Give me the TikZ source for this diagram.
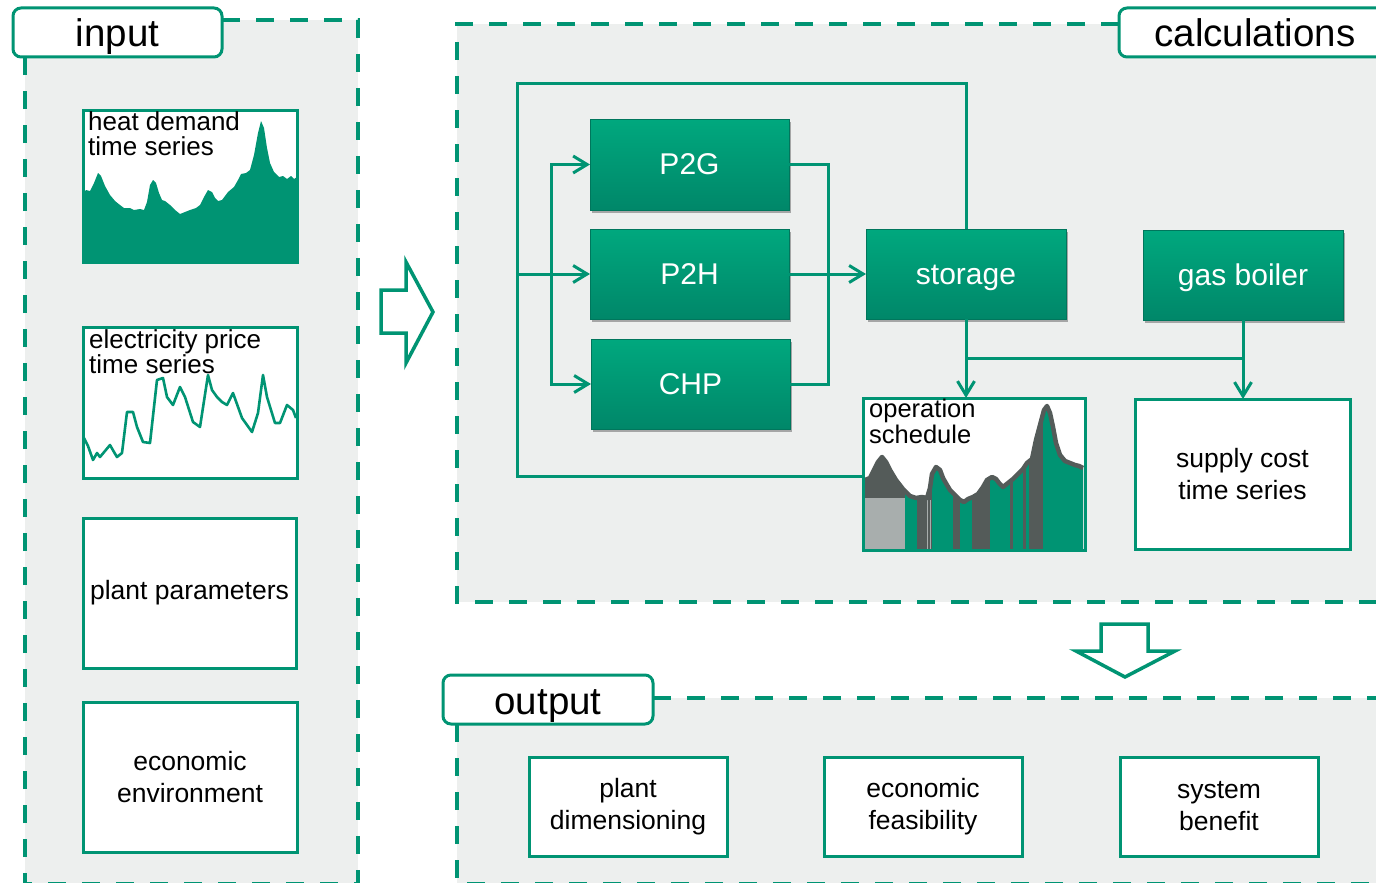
\documentclass[tikz,border=0pt]{standalone}
\usepackage{fontspec}
\setmainfont{Liberation Sans}
\usetikzlibrary{arrows.meta,shadows,calc}
\definecolor{tgreen}{RGB}{0,148,115}
\definecolor{panelgray}{RGB}{237,239,238}
\definecolor{gtop}{RGB}{0,168,126}
\definecolor{gbot}{RGB}{0,135,105}
\definecolor{dkgray}{RGB}{84,91,89}
\definecolor{ltgray}{RGB}{168,174,173}
\begin{document}
\begin{tikzpicture}[x=1pt,y=-1pt,
  panelfill/.style={fill=panelgray,draw=none},
  dashline/.style={draw=tgreen,line width=4pt,dash pattern=on 18pt off 16pt},
  labelbox/.style={draw=tgreen,line width=3pt,rounded corners=8pt,fill=white,
     minimum height=49pt,inner sep=0pt,text height=29pt,text depth=0pt,
     font=\fontsize{38.5}{40}\selectfont},
  wbox/.style={draw=tgreen,line width=3pt,fill=white,inner sep=0pt,outer sep=0pt,align=center,
     font=\fontsize{26.5}{32}\selectfont},
  gbox/.style={draw=tgreen!80!black,line width=0.8pt,top color=gtop,bottom color=gbot,
     text=white,inner sep=0pt,outer sep=0pt,font=\fontsize{30}{32}\selectfont,
     text height=26pt,text depth=6pt,
     drop shadow={shadow xshift=2pt,shadow yshift=-3pt,opacity=0.3,fill=black}},
  boxline/.style={draw=tgreen,line width=3pt},
  smalltxt/.style={anchor=north west,inner sep=0pt,align=left,
     font=\fontsize{26}{25}\selectfont},
  conn/.style={draw=tgreen,line width=3pt},
  arr/.style={conn,-{Straight Barb[length=14pt,width=17pt]}},
  hollow/.style={draw=tgreen,line width=3.5pt,fill=white,line join=miter}
]
\useasboundingbox (0,0) rectangle (1376,883);
\fill[white] (0,0) rectangle (1376,883);

% ---------- panels ----------
\fill[panelfill] (25,20) rectangle (358,884);
\fill[panelfill] (457,24) rectangle (1395,602);
\fill[panelfill] (457,698) rectangle (1395,884);

\draw[dashline] (222,20) -- (358,20) -- (358,884) -- (25,884) -- (25,57);
\draw[dashline] (1119,24) -- (457,24) -- (457,602) -- (1395,602);
\draw[dashline] (653,698) -- (1395,698);
\draw[dashline] (457,724) -- (457,884) -- (1395,884);

\node[labelbox,minimum width=209pt] (inlbl) at (117.5,32.5) {input};
\node[labelbox,minimum width=272pt] (calclbl) at (1255,32.5) {calculations};
\node[labelbox,minimum width=210pt] (outlbl) at (548,699.5) {output};

% ---------- input column ----------
\node[wbox,minimum width=214pt,minimum height=152pt] (heat) at (190,186) {};
\fill[tgreen] (83,262) -- (83,193) -- (86,190) -- (90,191) -- (94,183) -- (98,173) -- (101,176)
  -- (105,186) -- (110,195) -- (115,201) -- (120,205) -- (124,208) -- (130,208) -- (134,210)
  -- (140,209) -- (144,210) -- (147,202) -- (150,185) -- (153,180) -- (156,183) -- (159,193)
  -- (162,200) -- (165,201) -- (170,205) -- (175,210) -- (180,214) -- (185,212) -- (190,210)
  -- (196,208) -- (200,205) -- (204,197) -- (208,190) -- (212,192) -- (215,198) -- (218,201)
  -- (222,200) -- (228,192) -- (234,187) -- (238,180) -- (241,174) -- (246,173) -- (250,170)
  -- (254,155) -- (258,133) -- (261,121) -- (264,128) -- (267,148) -- (270,163) -- (274,172)
  -- (279,177) -- (283,176) -- (287,179) -- (291,176) -- (294,179) -- (297,177) -- (297,262) -- cycle;
\draw[boxline] (heat.south west) rectangle (heat.north east);
\node[smalltxt] (heattxt) at (88,111) {heat demand\\time series};

\node[wbox,minimum width=214pt,minimum height=151pt] (elec) at (190,402.5) {};
\draw[tgreen,line width=2.6pt,line join=round] (84,438) -- (88,446) -- (93,460) -- (97,453)
  -- (100,457) -- (105,451) -- (110,445) -- (114,452) -- (117,457) -- (122,453) -- (127,412)
  -- (133,412) -- (137,427) -- (143,442) -- (150,443) -- (157,380) -- (163,378) -- (167,397)
  -- (173,405) -- (180,387) -- (185,397) -- (193,422) -- (200,427) -- (208,375) -- (212,390)
  -- (217,397) -- (222,402) -- (227,405) -- (233,393) -- (242,418) -- (252,432) -- (258,413)
  -- (263,375) -- (267,397) -- (275,423) -- (280,423) -- (287,405) -- (293,410) -- (296,418);
\draw[boxline] (elec.south west) rectangle (elec.north east);
\node[smalltxt] (electxt) at (89,329) {electricity price\\time series};

\node[wbox,minimum width=213pt,minimum height=150pt] (plant) at (189.5,593) {plant parameters};
\node[wbox,minimum width=214pt,minimum height=150pt] (econ) at (190,777) {economic\\environment};

% ---------- arrows between panels ----------
\draw[hollow] (381,290) -- (406,290) -- (406,262) -- (433,312) -- (406,363) -- (406,333) -- (381,333) -- cycle;
\draw[hollow] (1101,624) -- (1148,624) -- (1148,651) -- (1175,651) -- (1125,677) -- (1076,651) -- (1101,651) -- cycle;

% ---------- calculations ----------
\node[gbox,minimum width=199pt,minimum height=91pt] (p2g) at (689.5,164.5) {P2G};
\node[gbox,minimum width=199pt,minimum height=90pt] (p2h) at (689.5,274) {P2H};
\node[gbox,minimum width=199pt,minimum height=90pt] (chp) at (690.5,384) {CHP};
\node[gbox,minimum width=200pt,minimum height=90pt] (storage) at (966,274) {storage};
\node[gbox,minimum width=200pt,minimum height=90pt] (gasb) at (1243,275) {gas boiler};

% operation schedule box
\node[wbox,minimum width=222pt,minimum height=152pt] (opsch) at (974,474) {};
\def\opcurve{(865,480) -- (870,478) -- (874,470) -- (878,462) -- (882,457) -- (886,462) -- (890,470)
  -- (896,480) -- (903,489) -- (910,496) -- (916,498) -- (922,497) -- (927,498) -- (930,488)
  -- (932,474) -- (936,467) -- (940,470) -- (943,478) -- (947,485) -- (950,490) -- (955,495)
  -- (960,500) -- (964,502) -- (968,499) -- (973,497) -- (978,494) -- (983,487) -- (987,480)
  -- (992,477) -- (996,479) -- (999,483) -- (1003,487) -- (1008,483) -- (1013,479) -- (1018,474)
  -- (1023,469) -- (1027,463) -- (1032,459) -- (1036,440) -- (1040,425) -- (1044,410) -- (1047,406)
  -- (1050,413) -- (1053,427) -- (1056,443) -- (1060,455) -- (1065,461) -- (1070,463) -- (1075,465)
  -- (1079,466) -- (1083,468)}
\begin{scope}
  \clip \opcurve -- (1083,550) -- (865,550) -- cycle;
  \fill[dkgray] (863,398) rectangle (1085,550);
  \fill[tgreen] (905,398) rectangle (917,550);
  \fill[tgreen] (932,398) rectangle (953,550);
  \fill[tgreen] (960,398) rectangle (972,550);
  \fill[tgreen] (990,398) rectangle (1010,550);
  \fill[tgreen] (1013,398) rectangle (1023,550);
  \fill[tgreen] (1026,398) rectangle (1029,550);
  \fill[tgreen] (1043,398) rectangle (1085,550);
  \fill[ltgray] (865,498) rectangle (905,550);
  \fill[ltgray] (926.5,500) rectangle (927.8,550);
  \fill[ltgray] (929.8,500) rectangle (931,550);
\end{scope}
\draw[dkgray,line width=4.5pt,line join=round] \opcurve;
\draw[boxline] (opsch.south west) rectangle (opsch.north east);
\node[smalltxt,font=\fontsize{25.5}{26}\selectfont] (optxt) at (869,399) {operation\\schedule};

\node[wbox,minimum width=215pt,minimum height=150pt] (supply) at (1242.5,474) {supply cost\\time series};

% connectors
\coordinate (tl) at (517,83);
\coordinate (bl) at (517,476);
\coordinate (jx) at (517,274);
\coordinate (bus) at (551,274);
\coordinate (rb) at (828,274);
\coordinate (jn) at (966,358);
\coordinate (jg) at (1243,358);

\draw[conn] (storage.north) |- (tl) -- (bl) -- (bl -| opsch.west);
\draw[arr] (jx) -- (p2h.west);
\draw[arr] (bus) |- (p2g.west);
\draw[arr] (bus) |- (chp.west);
\draw[conn] (p2g.east) -| (rb) |- (chp.east);
\draw[arr] (p2h.east) -- (storage.west);
\draw[conn] (storage.south) -- (jn) -- (jg) -- (gasb.south);
\draw[arr] (jn) -- (jn |- opsch.north);
\draw[arr] (jg) -- (jg |- supply.north);

% ---------- output ----------
\node[wbox,minimum width=198pt,minimum height=99pt] (dim) at (628,806.5) {plant\\dimensioning};
\node[wbox,minimum width=198pt,minimum height=99pt] (feas) at (923,806.5) {economic\\feasibility};
\node[wbox,minimum width=198pt,minimum height=99pt] (ben) at (1219,806.5) {system\\benefit};
\end{tikzpicture}
\end{document}
